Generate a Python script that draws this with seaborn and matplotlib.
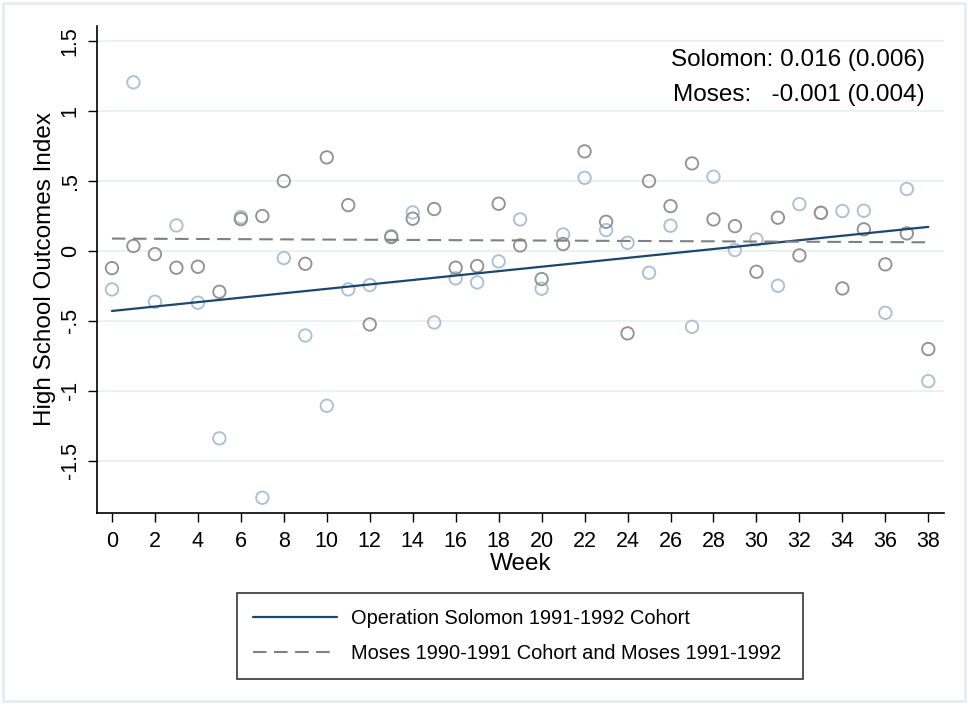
import matplotlib
matplotlib.use("Agg")
import matplotlib.pyplot as plt
import seaborn as sns
import numpy as np
import pandas as pd
from matplotlib.lines import Line2D
from matplotlib.patches import Rectangle

# ---------------- data ----------------
weeks = list(range(39))
solomon = [-0.276, 1.203, -0.364, 0.181, -0.371, -1.340, 0.240, -1.764, -0.052, -0.605,
           -1.107, -0.276, -0.245, 0.105, 0.274, -0.512, -0.197, -0.226, -0.076, 0.224,
           -0.271, 0.117, 0.521, 0.148, 0.057, -0.157, 0.179, -0.543, 0.529, 0.005,
           0.081, -0.250, 0.333, 0.271, 0.284, 0.286, -0.443, 0.441, -0.931]
moses = [-0.124, 0.034, -0.024, -0.121, -0.114, -0.293, 0.226, 0.248, 0.498, -0.093,
         0.667, 0.326, -0.526, 0.098, 0.229, 0.298, -0.121, -0.109, 0.336, 0.038,
         -0.202, 0.048, 0.710, 0.207, -0.590, 0.498, 0.319, 0.624, 0.224, 0.176,
         -0.150, 0.236, -0.033, 0.271, -0.269, 0.153, -0.097, 0.124, -0.702]
# fitted-line parameters (intercept, slope)
solomon_fit = [-0.430, 0.0158]
moses_fit = [0.087, -0.0007]

legend_labels = ["Operation Solomon 1991-1992 Cohort",
                 "Moses 1990-1991 Cohort and Moses 1991-1992"]
annotation_lines = ["Solomon: 0.016 (0.006)", "Moses:   -0.001 (0.004)"]
xticks = list(range(0, 39, 2))
yticks = [-1.5, -1, -0.5, 0, 0.5, 1, 1.5]
yticklabels = ["-1.5", "-1", "-.5", "0", ".5", "1", "1.5"]

# ---------------- styling ----------------
sns.set_theme(style="white")
plt.rcParams["font.family"] = ["Liberation Sans", "DejaVu Sans"]

NAVY = "#1a476f"
SOL_PT = "#adc0d3"
MOS_PT = "#939393"
MOS_LN = "#808080"
GRID = "#e8f0f2"

df = pd.DataFrame({"week": weeks, "solomon": solomon, "moses": moses})
wk = np.array(weeks, dtype=float)
df["sol_fit"] = solomon_fit[0] + solomon_fit[1] * wk
df["mos_fit"] = moses_fit[0] + moses_fit[1] * wk

fig = plt.figure(figsize=(9.68, 7.04), dpi=100)
fig.patch.set_facecolor("white")
ax = fig.add_axes([0.0999, 0.2717, 0.8753, 0.6913])
ax.set_facecolor("white")

sns.scatterplot(data=df, x="week", y="solomon", ax=ax, marker="o", s=80,
                facecolor="none", edgecolor=SOL_PT, linewidth=1.35, zorder=3)
sns.scatterplot(data=df, x="week", y="moses", ax=ax, marker="o", s=80,
                facecolor="none", edgecolor=MOS_PT, linewidth=1.35, zorder=3)
sns.lineplot(data=df, x="week", y="sol_fit", ax=ax, color=NAVY, linewidth=1.6, zorder=4)
sns.lineplot(data=df, x="week", y="mos_fit", ax=ax, color=MOS_LN, linewidth=1.5,
             linestyle=(0, (6.5, 3.6)), zorder=4)

ax.set_xlim(-0.71, 38.73)
ax.set_ylim(-1.871, 1.605)
ax.set_xticks(xticks)
ax.set_xticklabels([str(t) for t in xticks])
ax.set_yticks(yticks)
ax.set_yticklabels(yticklabels, rotation=90, va="center")

ax.yaxis.grid(True, color=GRID, linewidth=1.3, zorder=0)
ax.xaxis.grid(False)
ax.set_axisbelow(True)

for side in ["top", "right"]:
    ax.spines[side].set_visible(False)
for side in ["left", "bottom"]:
    ax.spines[side].set_color("black")
    ax.spines[side].set_linewidth(1.2)

ax.tick_params(axis="both", direction="out", length=6.5, width=1.0, color="black",
               labelsize=15.5, labelcolor="black", bottom=True, left=True)
ax.tick_params(axis="x", pad=6.5)
ax.tick_params(axis="y", pad=5)

ax.set_xlabel("Week", fontsize=17.5, color="black", labelpad=1)
ax.set_ylabel("High School Outcomes Index", fontsize=17.5, color="black", labelpad=3)

ax.text(37.85, 1.36, annotation_lines[0], ha="right", va="center", fontsize=17.5, color="black")
ax.text(37.85, 1.11, annotation_lines[1], ha="right", va="center", fontsize=17.5, color="black")

handles = [Line2D([], [], color=NAVY, linewidth=1.6),
           Line2D([], [], color=MOS_LN, linewidth=1.5, linestyle=(0, (6.5, 3.6)))]
leg = fig.legend(handles, legend_labels, loc="upper left",
                 bbox_to_anchor=(0.2445, 0.0459, 0.585, 0.1122), mode="expand",
                 frameon=True, fancybox=False, fontsize=14.4, handlelength=4.2,
                 handletextpad=0.7, labelspacing=0.8, borderpad=0.8, borderaxespad=0)
leg.get_frame().set_edgecolor("black")
leg.get_frame().set_linewidth(1.2)
for t in leg.get_texts():
    t.set_color("black")

fig.patches.append(Rectangle((0.003, 0.004), 0.994, 0.992, transform=fig.transFigure,
                             fill=False, edgecolor="#e6eef1", linewidth=2))

fig.savefig("out.png", dpi=100)
